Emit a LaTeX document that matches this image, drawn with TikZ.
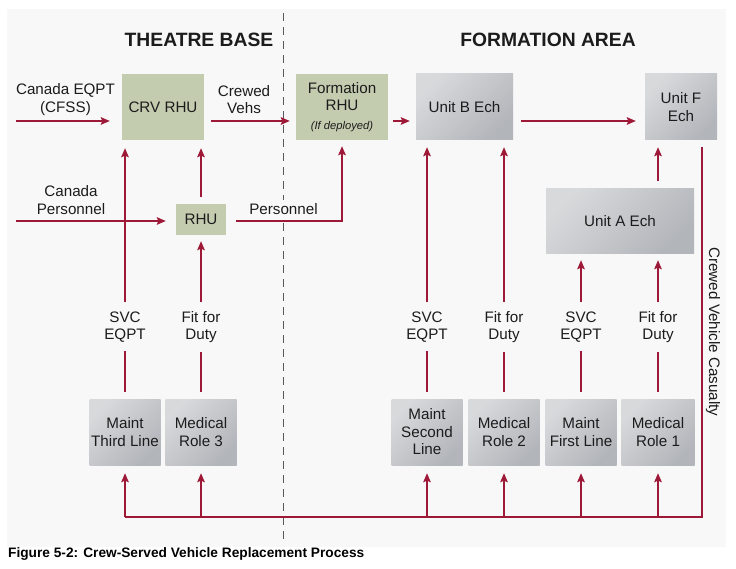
\documentclass[tikz,border=0pt]{standalone}
\usepackage{fontspec}
\setmainfont{Liberation Sans}
\usetikzlibrary{arrows.meta}
\definecolor{bgc}{RGB}{248,248,248}
\definecolor{arrc}{RGB}{158,24,56}
\definecolor{greenc}{RGB}{196,204,176}
\definecolor{greyl}{RGB}{216,217,219}
\definecolor{greyd}{RGB}{178,181,186}
\definecolor{txt}{RGB}{28,28,28}
\definecolor{dashc}{RGB}{90,90,90}
\begin{document}
\begin{tikzpicture}[x=1pt,y=-1pt,
  font=\fontsize{15.2}{17.5}\selectfont,
  gbox/.style={fill=greenc, align=center, inner sep=0pt, text=txt},
  sbox/.style={top color=greyl, bottom color=greyd, shading angle=45, align=center, inner sep=0pt, text=txt},
  bw/.style={minimum width=71pt, minimum height=66pt},
  lbl/.style={align=center, inner sep=1pt, text=txt},
  flbl/.style={lbl, fill=bgc, inner ysep=9pt},
  title/.style={font=\bfseries\fontsize{19.3}{22}\selectfont, text=txt},
  arr/.style={draw=arrc, line width=1.6pt, -{Stealth[length=9pt,width=7.5pt,inset=1.5pt]}},
  wire/.style={draw=arrc, line width=1.6pt},
  divider/.style={draw=dashc, line width=1pt, dash pattern=on 8pt off 6pt}
]
\useasboundingbox (0,0) rectangle (736,569);
\fill[bgc] (7,9) rectangle (726,547);

% divider
\coordinate (dtop) at (283,13);
\coordinate (dbot) at (283,540);
\draw[divider] (dtop) -- (dbot);

% titles
\node[title] (tb) at (199,40) {THEATRE BASE};
\node[title] (fa) at (548,40) {FORMATION AREA};

% boxes
\node[gbox, minimum width=82pt, minimum height=66pt] (crv) at (163,107) {CRV RHU};
\node[gbox, minimum width=50pt, minimum height=31pt] (rhu) at (201,219.5) {RHU};
\node[gbox, minimum width=92pt, minimum height=66pt] (frhu) at (342,107) {Formation\\RHU\\[1pt]{\fontsize{11.2}{13}\selectfont\itshape (If deployed)}};
\node[sbox, minimum width=97pt, minimum height=66pt] (unitb) at (464.5,107) {Unit B Ech};
\node[sbox, minimum width=72pt, minimum height=66pt] (unitf) at (681,107) {Unit F\\Ech};
\node[sbox, minimum width=148pt, minimum height=65pt] (unita) at (620,221.5) {Unit A Ech};
\node[sbox, bw] (m3) at (125,432) {Maint\\Third Line};
\node[sbox, bw] (med3) at (201,432) {Medical\\Role 3};
\node[sbox, bw] (m2) at (427,432) {Maint\\Second\\Line};
\node[sbox, bw] (med2) at (504,432) {Medical\\Role 2};
\node[sbox, bw] (m1) at (581,432) {Maint\\First Line};
\node[sbox, bw, minimum width=73pt] (med1) at (658,432) {Medical\\Role 1};

% top row flow
\coordinate (ceq) at (16,121);
\draw[arr, shorten >=12pt] (ceq) -- (ceq -| crv.west);
\node[lbl] (lceq) at (65.5,99.5) {Canada EQPT\\(CFSS)};
\draw[arr, shorten <=7pt, shorten >=6pt] (ceq -| crv.east) -- (ceq -| frhu.west);
\node[lbl] (lcv) at (244,99.5) {Crewed\\Vehs};
\draw[arr, shorten <=5pt, shorten >=6pt] (ceq -| frhu.east) -- (ceq -| unitb.west);
\draw[arr, shorten <=8pt, shorten >=9pt] (ceq -| unitb.east) -- (ceq -| unitf.west);

% personnel
\coordinate (cp) at (16,221);
\draw[arr, shorten >=10pt] (cp) -- (cp -| rhu.west);
\node[lbl] (lcp) at (71,200) {Canada\\Personnel};
\draw[arr, shorten <=10pt, shorten >=6pt] (cp -| rhu.east) -| (frhu.south);
\node[lbl, fill=bgc, inner xsep=2pt, inner ysep=3pt] (lper) at (283.5,209) {Personnel};
\draw[arr, shorten <=7pt, shorten >=8pt] (rhu.north) -- (rhu.north |- crv.south);

% supply / duty arrows
\draw[arr, shorten <=7pt, shorten >=8pt] (m3.north) -- node[flbl, pos=0.278] (s3) {SVC\\EQPT} (m3.north |- crv.south);
\draw[arr, shorten <=7pt, shorten >=6pt] (med3.north) -- node[flbl, pos=0.439] (f3) {Fit for\\Duty} (med3.north |- rhu.south);
\draw[arr, shorten <=7pt, shorten >=7pt] (m2.north) -- node[flbl, pos=0.278] (s2) {SVC\\EQPT} (m2.north |- unitb.south);
\draw[arr, shorten <=7pt, shorten >=7pt] (med2.north) -- node[flbl, pos=0.278] (f2) {Fit for\\Duty} (med2.north |- unitb.south);
\draw[arr, shorten <=7pt, shorten >=6pt] (m1.north) -- node[flbl, pos=0.497] (s1) {SVC\\EQPT} (m1.north |- unita.south);
\draw[arr, shorten <=7pt, shorten >=6pt] (med1.north) -- node[flbl, pos=0.497] (f1) {Fit for\\Duty} (med1.north |- unita.south);
\draw[arr, shorten <=8pt, shorten >=7pt] (unita.north -| med1.north) -- (unitf.south -| med1.north);

% casualty loop
\coordinate (cas) at (702,517);
\draw[wire, shorten <=7pt] (unitf.south -| cas) -- (cas) -- (cas -| m3.south);
\node[lbl, rotate=-90] (lcas) at (713,332) {Crewed Vehicle Casualty};
\foreach \n in {m3,med3,m2,med2,m1,med1}
  \draw[arr, shorten >=8pt] (cas -| \n.south) -- (\n.south);

% caption
\node[anchor=west, inner sep=0pt, font=\bfseries\fontsize{13.7}{16}\selectfont] (cap) at (8,554) {Figure 5-2: Crew-Served Vehicle Replacement Process};
\end{tikzpicture}
\end{document}
